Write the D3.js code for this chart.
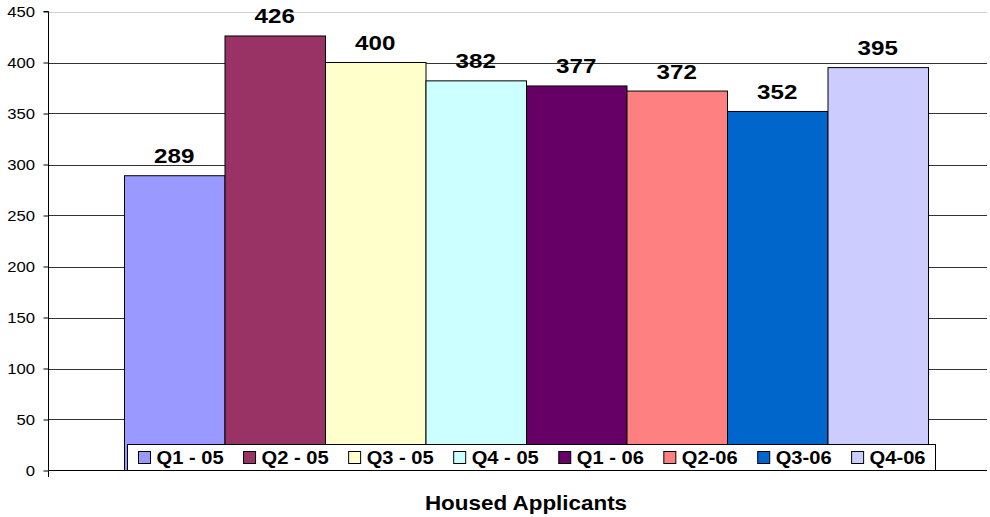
<!DOCTYPE html>
<html><head><meta charset="utf-8">
<script src="https://cdn.jsdelivr.net/npm/d3@7"></script>
<style>body{margin:0;background:#fff}svg{display:block;font-family:"Liberation Sans",Arial,sans-serif}</style>
</head><body><svg width="990" height="517"></svg>
<script>
const series = ["Q1 - 05","Q2 - 05","Q3 - 05","Q4 - 05","Q1 - 06","Q2-06","Q3-06","Q4-06"];
const values = [289,426,400,382,377,372,352,395];
const colors = ["#9999FF","#993366","#FFFFCC","#CCFFFF","#660066","#FF8080","#0066CC","#CCCCFF"];
const yTicks = [0,50,100,150,200,250,300,350,400,450];
const xTitle = "Housed Applicants";

(function(){
const svg = d3.select("svg");
const SX = 1.15;
const pL = 48.5, pR = 987, pT = 11.5, pB = 470.5;
const y = d3.scaleLinear().domain([0,450]).range([pB, pT]);
const x = d3.scaleBand().domain(series).range([124, 928]).padding(0);

function txt(g, x0, y0, s, size, weight, anchor){
  return g.append("g").attr("transform",`translate(${x0},${y0}) scale(${SX},1)`)
    .append("text").text(s).attr("font-size",size).attr("font-weight",weight||"normal")
    .attr("text-anchor",anchor||"start").attr("fill","#000");
}

// gridlines
svg.append("g").selectAll("line").data(yTicks.filter(d=>d>0)).join("line")
  .attr("x1",pL).attr("x2",pR).attr("y1",d=>Math.round(y(d))+0.5).attr("y2",d=>Math.round(y(d))+0.5)
  .attr("stroke",d=>d===450?"#d0d0d0":"#333").attr("stroke-width",1);

// y axis
const ya = svg.append("g").attr("transform",`translate(${pL},0)`)
  .call(d3.axisLeft(y).tickValues(yTicks).tickSize(5).tickFormat(""));
ya.selectAll("path,line").attr("stroke","#000");
ya.select(".domain").attr("d",`M-5,${pT}H0V${pB}`);
yTicks.forEach(d=>txt(svg, 35, y(d)+5, String(d), 14.5, "normal", "end"));

// bars
svg.append("g").selectAll("rect").data(values).join("rect")
  .attr("x",(d,i)=>x(series[i])+0.5).attr("width",x.bandwidth())
  .attr("y",d=>y(d)).attr("height",d=>pB-y(d))
  .attr("fill",(d,i)=>colors[i]).attr("stroke","#000").attr("stroke-width",1);

// value labels
values.forEach((d,i)=>txt(svg, x(series[i])+x.bandwidth()/2, y(d)-12.5, String(d), 21, "bold", "middle"));

// x axis line
svg.append("line").attr("x1",pL).attr("x2",pR).attr("y1",pB).attr("y2",pB).attr("stroke","#000");
svg.append("line").attr("x1",pL).attr("x2",pL).attr("y1",pB).attr("y2",pB+6.5).attr("stroke","#000");

// legend
const lg = svg.append("g");
const lbox = lg.append("rect").attr("x",127.5).attr("y",444.5).attr("width",808).attr("height",26)
  .attr("fill","#fff").attr("stroke","#000");
let cx = 138.5;
const widths = [];
series.forEach((s,i)=>{
  lg.append("rect").attr("x",cx).attr("y",451.5).attr("width",12).attr("height",12)
    .attr("fill",colors[i]).attr("stroke","#000");
  const t = txt(lg, cx+18, 464, s, 17.5, "bold", "start");
  const w = t.node().getComputedTextLength()*SX;
  cx += 18 + w + 20;
});
lbox.attr("width", Math.round(cx - 20 + 10 - 127.5));

// x title
txt(svg, 526, 510, xTitle, 19.5, "bold", "middle");
})();
</script></body></html>
